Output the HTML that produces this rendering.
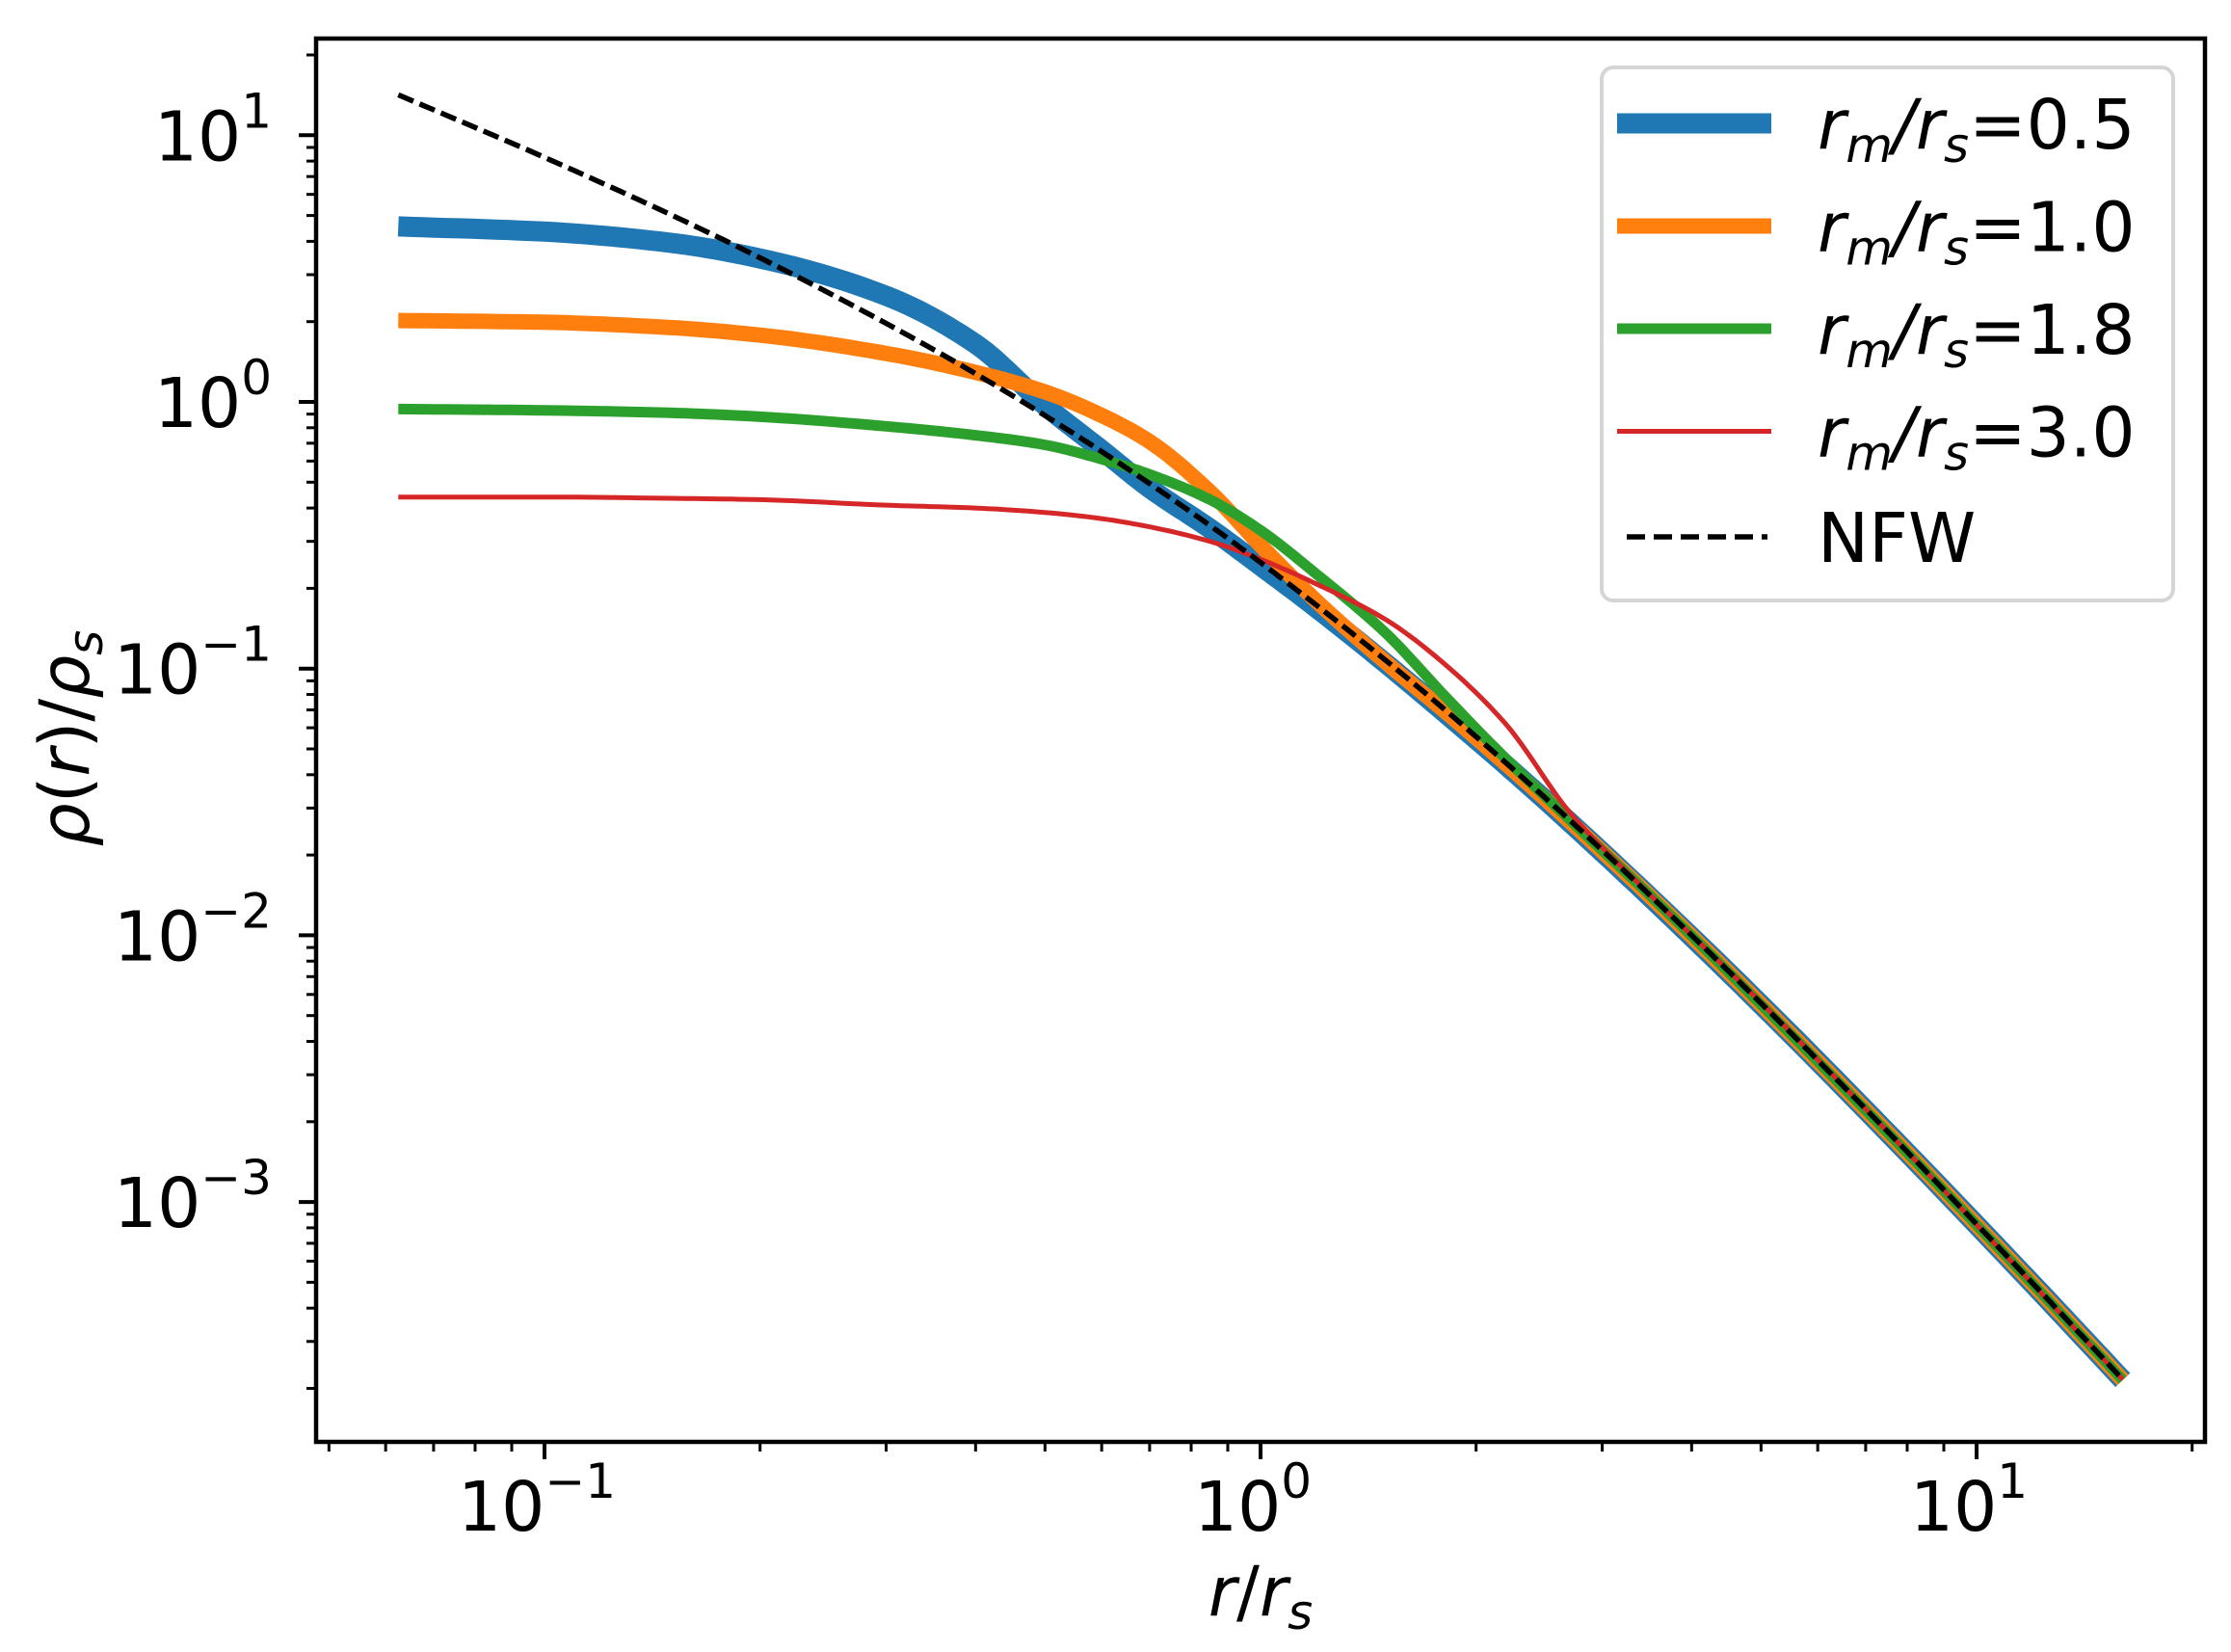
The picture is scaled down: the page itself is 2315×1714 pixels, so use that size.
<!DOCTYPE html>
<html><head><meta charset="utf-8"><style>
html,body{margin:0;padding:0;background:#fff;}
svg{display:block;font-family:"DejaVu Sans","Liberation Sans",sans-serif;}
</style></head><body>
<svg id="chart" width="2315" height="1714" viewBox="0 0 2315 1714" xmlns="http://www.w3.org/2000/svg">
<rect x="0" y="0" width="2315" height="1714" fill="#fff"/>
<g id="plot"></g>
<g id="axes"></g>
<g id="legend"></g>
</svg>
<script>
const radii = [0.0625,0.1,0.15,0.2,0.3,0.4,0.5,0.6,0.7,0.85,1,1.2,1.5,1.8,2.2,2.7,3.5,5,8,12,16];
const nfwValues = [14.17,8.26,5.04,3.47,1.97,1.276,0.889,0.651,0.494,0.344,0.25,0.172,0.1067,0.0709,0.0444,0.0271,0.01411,0.00556,0.001543,0.000493,0.000216];
const rm05Values = [4.55,4.35,3.95,3.45,2.5,1.65,0.97,0.66,0.475,0.335,0.243,0.168,0.104,0.069,0.0435,0.0266,0.0139,0.0055,0.00153,0.00049,0.000215];
const rm10Values = [2.02,1.99,1.9,1.78,1.52,1.29,1.09,0.89,0.71,0.46,0.29,0.178,0.105,0.07,0.044,0.0268,0.014,0.0055,0.00153,0.00049,0.000215];
const rm18Values = [0.94,0.93,0.91,0.88,0.81,0.75,0.69,0.61,0.535,0.43,0.33,0.225,0.135,0.08,0.046,0.0272,0.0141,0.0055,0.00153,0.00049,0.000215];
const rm30Values = [0.44,0.44,0.435,0.43,0.41,0.40,0.385,0.365,0.34,0.3,0.257,0.207,0.152,0.105,0.062,0.029,0.0142,0.0056,0.00154,0.00049,0.000216];
const xTickLabels = ["\u22121","0","1"];
const yTickLabels = ["1","0","\u22121","\u22122","\u22123"];
const legendLabels = ["0.5","1.0","1.8","3.0"];

const NS="http://www.w3.org/2000/svg";
const L=328,R=2288,T=40,B=1496;
function xS(v){return 1308+743*Math.log10(v);}
function yS(v){return 417-276.7*Math.log10(v);}
function mk(tag,attrs,parent){const e=document.createElementNS(NS,tag);for(const k in attrs)e.setAttribute(k,attrs[k]);parent.appendChild(e);return e;}
function smoothPath(xs,ys){
  const X=xs.map(xS),Y=ys.map(yS),n=X.length;
  const d=[],m=new Array(n);
  for(let i=0;i<n-1;i++)d.push((Y[i+1]-Y[i])/(X[i+1]-X[i]));
  m[0]=d[0];m[n-1]=d[n-2];
  for(let i=1;i<n-1;i++){
    if(d[i-1]*d[i]<=0)m[i]=0;
    else{const w1=2*(X[i+1]-X[i])+(X[i]-X[i-1]),w2=(X[i+1]-X[i])+2*(X[i]-X[i-1]);m[i]=(w1+w2)/(w1/d[i-1]+w2/d[i]);}
  }
  let s="M"+X[0].toFixed(1)+","+Y[0].toFixed(1);
  for(let i=0;i<n-1;i++){
    const h=X[i+1]-X[i];
    for(let k=1;k<=12;k++){
      const t=k/12,t2=t*t,t3=t2*t;
      const y=(2*t3-3*t2+1)*Y[i]+(t3-2*t2+t)*h*m[i]+(-2*t3+3*t2)*Y[i+1]+(t3-t2)*h*m[i+1];
      s+=" L"+(X[i]+t*h).toFixed(1)+","+y.toFixed(1);
    }
  }
  return s;
}
const plot=document.getElementById('plot');
const series=[
 {vals:rm05Values,color:"#1f77b4",w:21,name:"series-rm-0.5"},
 {vals:rm10Values,color:"#ff7f0e",w:16,name:"series-rm-1.0"},
 {vals:rm18Values,color:"#2ca02c",w:11,name:"series-rm-1.8"},
 {vals:rm30Values,color:"#d62728",w:5,name:"series-rm-3.0"}
];
series.forEach(s=>{
  const p=mk('path',{d:smoothPath(radii,s.vals),fill:"none",stroke:s.color,"stroke-width":s.w,"stroke-linejoin":"round"},plot);
  
  
});
const nfw=mk('path',{d:smoothPath(radii,nfwValues),fill:"none",stroke:"#000","stroke-width":5.5,"stroke-dasharray":"17,7"},plot);



const axes=document.getElementById('axes');
for(let d=-2;d<=1;d++){
  for(let m=1;m<=9;m++){
    const v=m*Math.pow(10,d);const x=xS(v);
    if(x<L||x>R)continue;
    const major=m===1;
    const t=mk('line',{x1:x,y1:B,x2:x,y2:B+(major?18:10),stroke:"#000","stroke-width":major?4:3},axes);
    
    
  }
}
[0.1,1,10].forEach((v,i)=>{
  const x=xS(v);
  const tx=mk('text',{x:x-8,y:1588,"font-size":71,"text-anchor":"middle"},axes);
  
  
  const a=document.createElementNS(NS,'tspan');a.textContent="10";tx.appendChild(a);
  const b=document.createElementNS(NS,'tspan');b.setAttribute('dy','-34');b.setAttribute('font-size','50');b.textContent=xTickLabels[i];tx.appendChild(b);
});
for(let d=-4;d<=1;d++){
  for(let m=1;m<=9;m++){
    const v=m*Math.pow(10,d);const y=yS(v);
    if(y<T||y>B)continue;
    const major=m===1;
    const t=mk('line',{x1:L,y1:y,x2:L-(major?18:10),y2:y,stroke:"#000","stroke-width":major?4:3},axes);
    
    
  }
}
[10,1,0.1,0.01,0.001].forEach((v,i)=>{
  const y=yS(v);
  const tx=mk('text',{x:282,y:y+26,"font-size":71,"text-anchor":"end"},axes);
  
  
  const a=document.createElementNS(NS,'tspan');a.textContent="10";tx.appendChild(a);
  const b=document.createElementNS(NS,'tspan');b.setAttribute('dy','-34');b.setAttribute('font-size','50');b.textContent=yTickLabels[i];tx.appendChild(b);
});
const frame=mk('rect',{x:L,y:T,width:R-L,height:B-T,fill:"none",stroke:"#000","stroke-width":4.5},axes);


</script>
<script>
(function(){
const NS="http://www.w3.org/2000/svg";
const svg=document.getElementById('chart');
function add(html){const g=document.createElementNS(NS,'g');g.innerHTML=html;svg.appendChild(g);return g;}
const g1=add('<text x="1308" y="1676" font-size="71" text-anchor="middle"><tspan font-style="italic">r</tspan>/<tspan font-style="italic">r</tspan><tspan font-size="50" font-style="italic" dy="14">s</tspan></text>'+
 '<text transform="translate(92,766) rotate(-90)" font-size="71" text-anchor="middle"><tspan font-style="italic">ρ</tspan>(<tspan font-style="italic">r</tspan>)/<tspan font-style="italic">ρ</tspan><tspan font-size="50" font-style="italic" dy="14">s</tspan></text>');


const leg=document.getElementById('legend');
let h='<rect x="1662" y="70" width="593" height="553" rx="12" fill="#fff" fill-opacity="0.85" stroke="#d5d5d5" stroke-width="4"/>';
const cols=["#1f77b4","#ff7f0e","#2ca02c","#d62728"],ws=[21,16,11,5];
legendLabels.forEach((lab,i)=>{
  const y=128+106.5*i;
  h+='<line x1="1678" y1="'+y+'" x2="1838" y2="'+y+'" stroke="'+cols[i]+'" stroke-width="'+ws[i]+'"/>';
  h+='<text x="1886" y="'+(y+26)+'" font-size="71"><tspan font-style="italic">r</tspan><tspan font-style="italic" font-size="50" dy="14">m</tspan><tspan dy="-14" font-style="italic">/r</tspan><tspan font-style="italic" font-size="50" dy="14">s</tspan><tspan dy="-14">='+lab+'</tspan></text>';
});
h+='<line x1="1688" y1="557" x2="1834" y2="557" stroke="#000" stroke-width="5.5" stroke-dasharray="19,9"/>';
h+='<text x="1886" y="583" font-size="71">NFW</text>';
leg.innerHTML=h;
})();
</script>
</body></html>
